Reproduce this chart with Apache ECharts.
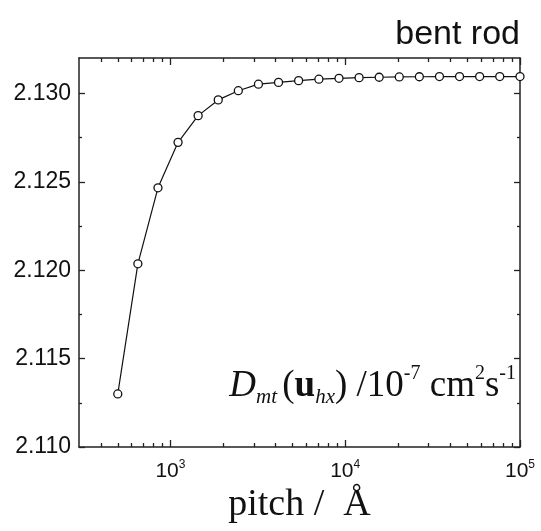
<!DOCTYPE html>
<html><head><meta charset="utf-8">
<script src="https://cdn.jsdelivr.net/npm/echarts@6/dist/echarts.min.js"></script>
<style>html,body{margin:0;padding:0;background:#fff}#c{width:541px;height:531px}</style>
</head><body><div id="c"></div>
<script>
// pitch values (Å)
const pitch = [500, 651.5, 848.9, 1106, 1441, 1878, 2447, 3189, 4155, 5414, 7071, 9214, 12006, 15644, 20385, 26562, 34611, 45099, 58765, 76573, 100000];
// D_mt(u_hx) / 1e-7 cm^2 s^-1
const diffusion = [2.1130, 2.12036, 2.12466, 2.12723, 2.12874, 2.12963, 2.13015, 2.13052, 2.13062, 2.13072, 2.13080, 2.13085, 2.13089, 2.13091, 2.13093, 2.13094, 2.13095, 2.13095, 2.13095, 2.13095, 2.13095];
const xMajorTicks = [1000, 10000, 100000];
const xMinorTicks = [400, 500, 600, 700, 800, 900, 2000, 3000, 4000, 5000, 6000, 7000, 8000, 9000, 20000, 30000, 40000, 50000, 60000, 70000, 80000, 90000];
const yMajorTicks = [2.110, 2.115, 2.120, 2.125, 2.130];
const yMinorTicks = [2.1125, 2.1175, 2.1225, 2.1275];
const titleText = 'bent rod';
const xName = 'pitch /  Å';

const SANS = '"Liberation Sans Narrow", "Arial Narrow", "Liberation Sans", sans-serif';
const SERIF = '"Liberation Serif", "Times New Roman", serif';
const lineCol = '#222';

function xAx(pos, ticks, len, showLine, extra) {
  return Object.assign({
    type: 'log', logBase: 10, min: 300, max: 100000, position: pos, gridIndex: 0,
    axisLine: { show: showLine, lineStyle: { color: lineCol, width: 1.5 } },
    axisTick: { show: true, inside: true, length: len, customValues: ticks, lineStyle: { color: lineCol, width: 1.3 } },
    axisLabel: { show: false },
    splitLine: { show: false }
  }, extra || {});
}
function yAx(pos, ticks, len, showLine, extra) {
  return Object.assign({
    type: 'value', min: 2.110, max: 2.132, position: pos, gridIndex: 0,
    axisLine: { show: showLine, lineStyle: { color: lineCol, width: 1.5 } },
    axisTick: { show: true, inside: true, length: len, customValues: ticks, lineStyle: { color: lineCol, width: 1.3 } },
    axisLabel: { show: false },
    splitLine: { show: false }
  }, extra || {});
}

const chart = echarts.init(document.getElementById('c'), null, { renderer: 'canvas' });
chart.setOption({
  backgroundColor: '#fff',
  animation: false,
  grid: { left: 79, right: 21, top: 58, bottom: 84, containLabel: false, outerBoundsMode: 'none' },
  xAxis: [
    xAx('bottom', xMajorTicks, 7, true, {
      axisLabel: {
        show: true, customValues: xMajorTicks, margin: 12,
        formatter: v => '{b|10}{s|' + Math.round(Math.log10(v)) + '}',
        rich: {
          b: { fontFamily: SANS, fontSize: 21, lineHeight: 24, color: '#111' },
          s: { fontFamily: SANS, fontSize: 12, lineHeight: 12, verticalAlign: 'top', color: '#111' }
        }
      },
      name: xName, nameLocation: 'middle', nameGap: 36,
      nameTextStyle: { fontFamily: SERIF, fontSize: 38, color: '#111' }
    }),
    xAx('bottom', xMinorTicks, 4, false),
    xAx('top', xMajorTicks, 7, true),
    xAx('top', xMinorTicks, 4, false)
  ],
  yAxis: [
    yAx('left', yMajorTicks, 6, true, {
      axisLabel: {
        show: true, customValues: yMajorTicks, margin: 8,
        formatter: v => v.toFixed(3),
        fontFamily: SANS, fontSize: 23, color: '#111'
      }
    }),
    yAx('left', yMinorTicks, 3, false),
    yAx('right', yMajorTicks, 6, true),
    yAx('right', yMinorTicks, 3, false)
  ],
  series: [{
    type: 'line',
    xAxisIndex: 0, yAxisIndex: 0,
    data: pitch.map((p, i) => [p, diffusion[i]]),
    symbol: 'circle', symbolSize: 8,
    itemStyle: { color: '#fff', borderColor: '#111', borderWidth: 1.3 },
    lineStyle: { color: '#111', width: 1.2 },
    z: 5
  }],
  graphic: [
    {
      type: 'text', right: 21, top: 18,
      style: { text: titleText, fontFamily: SANS, fontSize: 34, fill: '#111' }
    },
    {
      type: 'text', right: 25, top: 364,
      style: {
        text: '{i|D}{is|mt }{n|(}{b|u}{is|hx}{n|) /10}{sp|-7}{n| cm}{sp|2}{n|s}{sp|-1}',
        rich: {
          n: { fontFamily: SERIF, fontSize: 37, lineHeight: 44, fill: '#111' },
          i: { fontFamily: SERIF, fontStyle: 'italic', fontSize: 37, lineHeight: 44, fill: '#111' },
          b: { fontFamily: SERIF, fontWeight: 'bold', fontSize: 37, lineHeight: 44, fill: '#111' },
          is: { fontFamily: SERIF, fontStyle: 'italic', fontSize: 21, lineHeight: 21, verticalAlign: 'bottom', fill: '#111' },
          sp: { fontFamily: SERIF, fontSize: 20, lineHeight: 20, verticalAlign: 'top', fill: '#111' }
        }
      }
    }
  ]
});
</script></body></html>
